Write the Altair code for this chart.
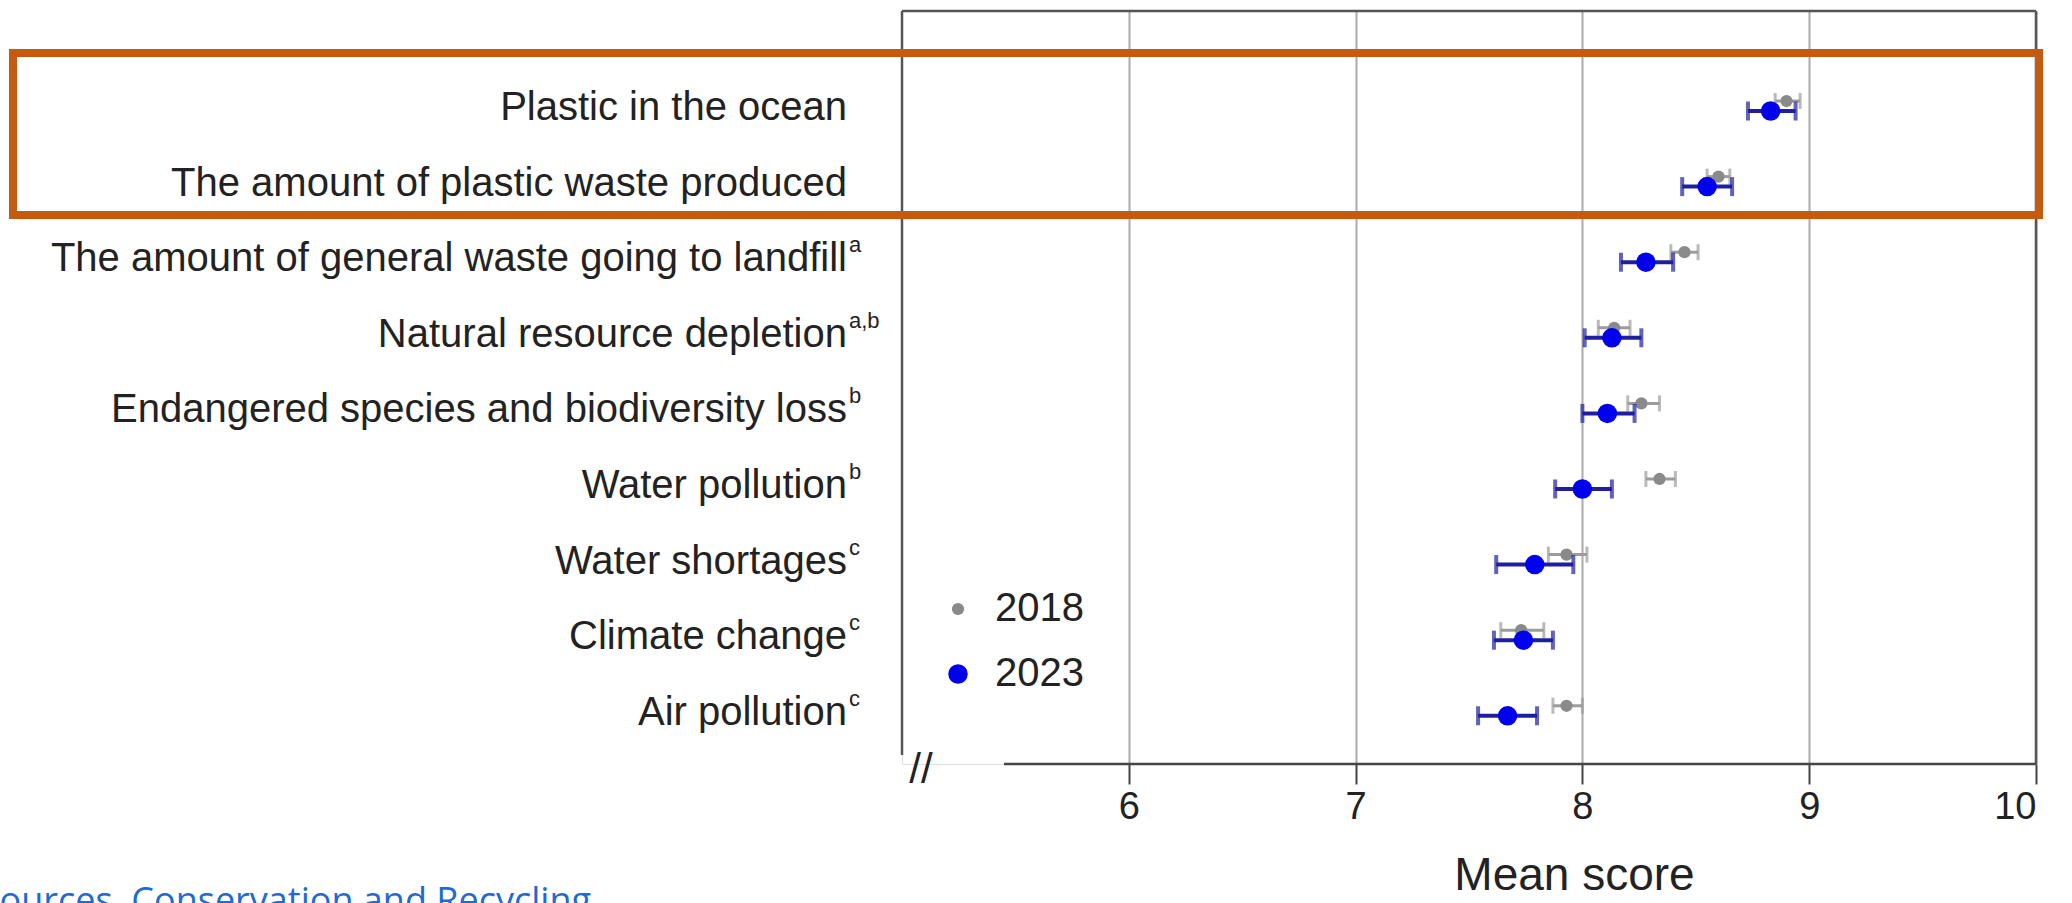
import altair as alt
import pandas as pd

# Environmental concerns, top to bottom, with their significance markers
concerns = [
    "Plastic in the ocean",
    "The amount of plastic waste produced",
    "The amount of general waste going to landfill",
    "Natural resource depletion",
    "Endangered species and biodiversity loss",
    "Water pollution",
    "Water shortages",
    "Climate change",
    "Air pollution",
]
superscripts = ["", "", "a", "a,b", "b", "b", "c", "c", "c"]

# 2023 survey: mean score with confidence interval
mean_2023 = [8.83, 8.55, 8.28, 8.13, 8.11, 8.00, 7.79, 7.74, 7.67]
lo_2023 = [8.73, 8.44, 8.17, 8.01, 8.00, 7.88, 7.62, 7.61, 7.54]
hi_2023 = [8.94, 8.66, 8.40, 8.26, 8.23, 8.13, 7.96, 7.87, 7.80]

# 2018 survey: mean score with confidence interval
mean_2018 = [8.90, 8.60, 8.45, 8.14, 8.26, 8.34, 7.93, 7.73, 7.93]
lo_2018 = [8.85, 8.55, 8.39, 8.07, 8.20, 8.28, 7.85, 7.64, 7.87]
hi_2018 = [8.96, 8.65, 8.51, 8.21, 8.34, 8.41, 8.02, 7.83, 8.00]

years = ["2018", "2023"]
x_ticks = [6, 7, 8, 9, 10]
source_text = "Resources, Conservation and Recycling"

FONT = "Liberation Sans"
TEXT = "#222222"
GRAY_PT = "#8a8a8a"
GRAY_BAR = "#9c9c9c"
BLUE_PT = "#0000ee"
BLUE_BAR = "#1f1f9e"
ORANGE = "#C55A11"

W, H = 1134, 753

idx = list(range(len(concerns)))
rows = pd.DataFrame({"concern": concerns, "sup": superscripts, "idx": idx})
d23 = pd.DataFrame({"idx": idx, "mean": mean_2023, "lo": lo_2023, "hi": hi_2023, "year": years[1]})
d18 = pd.DataFrame({"idx": idx, "mean": mean_2018, "lo": lo_2018, "hi": hi_2018, "year": years[0]})

x_scale = alt.Scale(domain=[5, 10], nice=False, zero=False)
x_axis = alt.Axis(
    values=x_ticks, title="Mean score", grid=True, gridColor="#ababab", gridWidth=2,
    domain=False, ticks=True, tickSize=20, tickColor="#444444", tickWidth=2,
    labelFontSize=38, labelFont=FONT, labelColor=TEXT, labelPadding=4,
    titleFontSize=46, titleFont=FONT, titleFontWeight="normal", titleColor=TEXT,
    titlePadding=27, titleX=672,
)
y_scale = alt.Scale(domain=[-1.323, 8.638], reverse=True, nice=False, zero=False)


def xq(field):
    return alt.X(f"{field}:Q", scale=x_scale, axis=x_axis)


Y = alt.Y("idx:Q", scale=y_scale, axis=None)

legend = alt.Legend(
    orient="none", legendX=36, legendY=578, title=None,
    labelFontSize=40, labelFont=FONT, labelColor=TEXT, labelOffset=17,
    rowPadding=25, padding=0, symbolStrokeWidth=0,
)
color = alt.Color("year:O", scale=alt.Scale(domain=years, range=[GRAY_PT, BLUE_PT]), legend=legend)
size = alt.Size("year:O", scale=alt.Scale(domain=years, range=[150, 380]), legend=legend)

one = alt.Data(values=[{}])

# Plot frame with a broken lower-left corner
frame_top = alt.Chart(one).mark_rule(color="#555555", strokeWidth=2.5).encode(
    x=alt.value(0), x2=alt.value(W), y=alt.value(0))
frame_left = alt.Chart(one).mark_rule(color="#555555", strokeWidth=2.5).encode(
    x=alt.value(0), y=alt.value(0), y2=alt.value(744))
frame_right = alt.Chart(one).mark_rule(color="#555555", strokeWidth=2.5).encode(
    x=alt.value(W), y=alt.value(0), y2=alt.value(H))
frame_bottom = alt.Chart(one).mark_rule(color="#444444", strokeWidth=2.5).encode(
    x=alt.value(102), x2=alt.value(W), y=alt.value(H))
axis_break = alt.Chart(alt.Data(values=[{"t": "//"}])).mark_text(
    fontSize=42, font=FONT, color=TEXT, align="center", baseline="middle").encode(
    x=alt.value(19), y=alt.value(H + 6), text="t:N")

# 2018 series (drawn slightly above the 2023 series)
bar18 = alt.Chart(d18).mark_rule(color=GRAY_BAR, strokeWidth=3, yOffset=-10).encode(
    x=xq("lo"), x2="hi:Q", y=Y)
cap18_lo = alt.Chart(d18).mark_tick(color=GRAY_BAR, orient="vertical", size=16, thickness=3, yOffset=-10).encode(
    x=xq("lo"), y=Y)
cap18_hi = alt.Chart(d18).mark_tick(color=GRAY_BAR, orient="vertical", size=16, thickness=3, yOffset=-10).encode(
    x=xq("hi"), y=Y)
pts18 = alt.Chart(d18).mark_point(filled=True, opacity=1, yOffset=-10).encode(
    x=xq("mean"), y=Y, color=color, size=size)

# 2023 series
bar23 = alt.Chart(d23).mark_rule(color=BLUE_BAR, strokeWidth=4).encode(
    x=xq("lo"), x2="hi:Q", y=Y)
cap23_lo = alt.Chart(d23).mark_tick(color=BLUE_BAR, orient="vertical", size=19, thickness=4).encode(
    x=xq("lo"), y=Y)
cap23_hi = alt.Chart(d23).mark_tick(color=BLUE_BAR, orient="vertical", size=19, thickness=4).encode(
    x=xq("hi"), y=Y)
pts23 = alt.Chart(d23).mark_point(filled=True, opacity=1).encode(
    x=xq("mean"), y=Y, color=color, size=size)

# Category labels with superscript markers
labels = alt.Chart(rows).mark_text(
    align="right", baseline="middle", fontSize=40, font=FONT, color=TEXT, dy=-3).encode(
    x=alt.value(-55), y=Y, text="concern:N")
sups = alt.Chart(rows).mark_text(
    align="left", baseline="middle", fontSize=22, font=FONT, color=TEXT, dy=-17).encode(
    x=alt.value(-53), y=Y, text="sup:N")

# Highlight box around the plastic items
highlight = alt.Chart(one).mark_rect(
    fill=None, filled=False, stroke=ORANGE, strokeWidth=8).encode(
    x=alt.value(-889), x2=alt.value(W + 3), y=alt.value(42), y2=alt.value(204))

source = alt.Chart(alt.Data(values=[{"t": source_text}])).mark_text(
    align="left", baseline="top", fontSize=36, font="Open Sans", color="#1f6bd1").encode(
    x=alt.value(-962), y=alt.value(874), text="t:N")

chart = alt.layer(
    bar18, cap18_lo, cap18_hi, pts18,
    bar23, cap23_lo, cap23_hi, pts23,
    frame_top, frame_left, frame_right, frame_bottom, axis_break,
    labels, sups, highlight, source,
).properties(
    width=W, height=H,
    padding={"left": 902, "top": 11, "right": 36, "bottom": 139},
    autosize=alt.AutoSizeParams(type="none"),
).configure_view(stroke=None).configure(background="white")

chart.save("out.html", embed_options={"renderer": "svg", "actions": False})
